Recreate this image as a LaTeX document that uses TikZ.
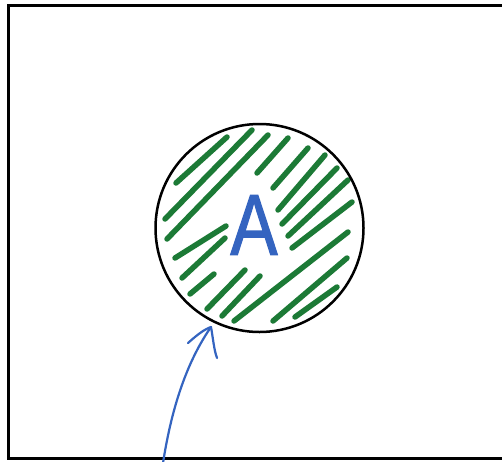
\documentclass[tikz,border=0pt]{standalone}
\usepackage{fontspec}
\newfontfamily\handfont[FakeBold=1.6]{Liberation Sans}
\definecolor{hatchgreen}{RGB}{28,122,54}
\definecolor{inkblue}{RGB}{52,100,192}
\begin{document}
\begin{tikzpicture}[x=1pt,y=-1pt,
  frame/.style={draw=black, line width=3pt},
  ring/.style={circle, draw=black, line width=2.5pt, minimum size=208pt, inner sep=0pt},
  hatch/.style={draw=hatchgreen, line width=5.5pt, line cap=round},
  ink/.style={draw=inkblue, line width=2.2pt, line cap=round, line join=round}]
\useasboundingbox (0,0) rectangle (502,461);
\fill[white] (0,0) rectangle (502,461);
\begin{scope}
\clip (0,0) rectangle (502,461);
\draw[frame] (8,5) rectangle (540,458);
% hatching
\foreach \a/\b/\c/\d in {
  176/183/227/137, 165/219/252/130, 167/239/268/135, 175/258/226/226,
  182/278/225/238, 190/294/214/274, 207/309/245/270, 222/316/260/276,
  234/321/348/232, 273/321/347/258, 295/317/337/287,
  257/173/288/138, 273/188/308/148, 278/210/325/155, 282/224/337/168,
  288/236/348/180, 292/248/352/202}
  \draw[hatch] (\a,\b) -- (\c,\d);
\node[ring] (circ) at (259.5,228) {};
\node[text=inkblue, font=\handfont\fontsize{86}{86}\selectfont, xscale=0.82, inner sep=0pt] (lbl) at (254,225) {A};
% arrow
\coordinate (tail) at (163,463);
\coordinate (tip) at (211,327);
\draw[ink] (tail) .. controls (172,405) and (188,360) .. (tip);
\draw[ink] (188,343) .. controls (198,334) and (205,329) .. (tip) .. controls (213,338) and (214,350) .. (217,358);
\end{scope}
\end{tikzpicture}
\end{document}
